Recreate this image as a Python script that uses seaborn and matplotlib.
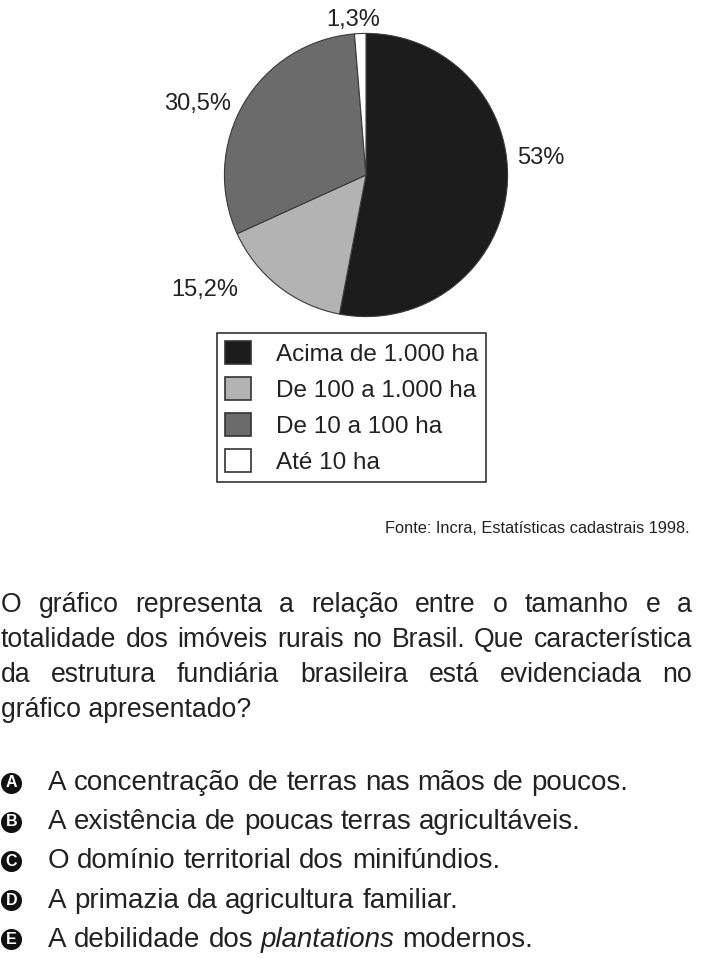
import matplotlib
matplotlib.use('Agg')
import matplotlib.pyplot as plt
from matplotlib import font_manager
import seaborn as sns

# dados do grafico
categorias = ['Acima de 1.000 ha', 'De 100 a 1.000 ha', 'De 10 a 100 ha', 'Até 10 ha']
percentuais = [53, 15.2, 30.5, 1.3]
cores = ['#1c1c1c', '#b3b3b3', '#6b6b6b', '#ffffff']

fonte = 'Fonte: Incra, Estatísticas cadastrais 1998.'
enunciado = [
    'O gráfico representa a relação entre o tamanho e a',
    'totalidade dos imóveis rurais no Brasil. Que característica',
    'da estrutura fundiária brasileira está evidenciada no',
    'gráfico apresentado?',
]
letras = ['A', 'B', 'C', 'D', 'E']
alternativas = [
    'A concentração de terras nas mãos de poucos.',
    'A existência de poucas terras agricultáveis.',
    'O domínio territorial dos minifúndios.',
    'A primazia da agricultura familiar.',
    'A debilidade dos *plantations* modernos.',
]

sns.set_theme(style='white')
plt.rcParams['font.family'] = ['Liberation Sans', 'DejaVu Sans']
cor_texto = '#222222'

W, H = 710, 965
fig = plt.figure(figsize=(W / 100, H / 100), dpi=100)

# pizza
cx, cy, r = 366, 175, 143
ax = fig.add_axes([(cx - r) / W, 1 - (cy + r) / H, 2 * r / W, 2 * r / H])
fatias, _ = ax.pie(percentuais, colors=cores, startangle=90, counterclock=False,
                   wedgeprops=dict(edgecolor='#3a3a3a', linewidth=0.8))
ax.set_xlim(-1.01, 1.01)
ax.set_ylim(-1.01, 1.01)
ax.axis('off')

pos_rotulos = [(1.238, 0.119), (-1.14, -0.811), (-1.189, 0.503), (-0.091, 1.098)]
for v, (x, y) in zip(percentuais, pos_rotulos):
    ax.text(x, y, f'{v:g}%'.replace('.', ','), ha='center', va='center',
            fontsize=17, color=cor_texto)

fig.legend(fatias, categorias, loc='upper left',
           bbox_to_anchor=(217 / W, 1 - 333 / H), bbox_transform=fig.transFigure,
           fontsize=17.5, frameon=True, fancybox=False, framealpha=1,
           edgecolor='#222222', handlelength=1.07, handleheight=1.05,
           handletextpad=1.0, labelspacing=0.47, borderpad=0.34, borderaxespad=0)
leg = fig.legends[0]
leg.get_frame().set_linewidth(1.1)
for t in leg.get_texts():
    t.set_color(cor_texto)
for h in leg.legend_handles:
    h.set_edgecolor('#333333')
    h.set_linewidth(1.2)

# camada de texto em pixels
ov = fig.add_axes([0, 0, 1, 1])
ov.set_xlim(0, W)
ov.set_ylim(H, 0)
ov.axis('off')
ov.patch.set_alpha(0)

ov.text(690, 533, fonte, ha='right', va='baseline', fontsize=11.8, color=cor_texto)

rend = fig.canvas.get_renderer()


def largura(s, **kw):
    t = ov.text(0, 0, s, **kw)
    w = t.get_window_extent(renderer=rend).width
    t.remove()
    return w


# fonte estreita para o enunciado: a que permitir o maior corpo
esq, dir_ = 1, 692
candidatas = [dict(family='Liberation Sans Narrow'),
              dict(family='DejaVu Sans', fontstretch='condensed'),
              dict(family='Roboto'),
              dict(family='Liberation Sans')]
nomes = {f.name for f in font_manager.fontManager.ttflist}
condensadas = {f.name for f in font_manager.fontManager.ttflist if f.stretch != 'normal'}
melhor, tam_par = None, 0
for c in candidatas:
    if c['family'] not in nomes:
        continue
    if 'fontstretch' in c and c['family'] not in condensadas:
        continue
    maior = max(largura(l, fontsize=19.5, **c) for l in enunciado)
    tam = min(19.5, 19.5 * (dir_ - esq) / maior * 0.985)
    if tam > tam_par:
        melhor, tam_par = c, tam
kw_par = dict(fontsize=tam_par, color=cor_texto, va='baseline', **melhor)

for i, linha in enumerate(enunciado):
    base = 611.5 + 35.2 * i
    if i == len(enunciado) - 1:
        ov.text(esq, base, linha, **kw_par)
        continue
    palavras = linha.split()
    ws = [largura(p, **kw_par) for p in palavras]
    gap = (dir_ - esq - sum(ws)) / (len(palavras) - 1)
    x = esq
    for p, w in zip(palavras, ws):
        ov.text(x, base, p, **kw_par)
        x += w + gap

tam_alt = 20
kw_alt = dict(fontsize=tam_alt, color=cor_texto, va='baseline')
espaco = largura('x x', fontsize=tam_alt) - largura('xx', fontsize=tam_alt)
for i, (letra, alt) in enumerate(zip(letras, alternativas)):
    base = 790 + 39.2 * i
    ov.scatter([11.3], [base - 7.5], s=230, color='#111111', zorder=3, linewidths=0)
    ov.text(11.3, base - 7.3, letra, ha='center', va='center', fontsize=11.5,
            fontweight='bold', color='white', zorder=4)
    partes = alt.split('*')
    x = 48
    for j, parte in enumerate(partes):
        estilo = 'italic' if j % 2 == 1 else 'normal'
        for pal in parte.split(' '):
            if pal == '':
                continue
            ov.text(x, base, pal, style=estilo, **kw_alt)
            x += largura(pal, style=estilo, fontsize=tam_alt) + espaco

fig.savefig('out.png', dpi=100)
